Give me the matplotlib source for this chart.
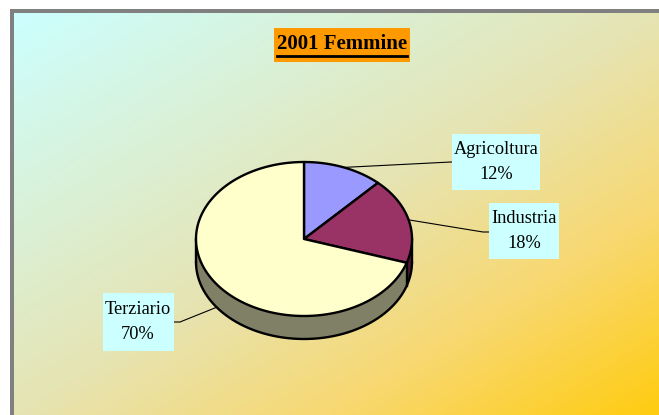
import numpy as np
import matplotlib.pyplot as plt
from matplotlib.colors import LinearSegmentedColormap
from matplotlib.patches import Polygon, Rectangle

# data
categories = ["Agricoltura", "Industria", "Terziario"]
values = [12, 18, 70]
colors = ["#9999ff", "#993366", "#ffffcc"]
side_colors = ["#4d4d80", "#4d1a33", "#808066"]
title = "2001 Femmine"

W, H = 659, 415
fig = plt.figure(figsize=(W / 100, H / 100), dpi=100)
fig.patch.set_facecolor("white")
ax = fig.add_axes([0, 0, 1, 1])
ax.axis("off")

# background frame + diagonal gradient
ax.add_patch(Rectangle((10, 9), W, H, fc="#808080", ec="none", zorder=0))
x0, y0 = 14, 14
uu, vv = np.meshgrid(np.linspace(0, 1, 300), np.linspace(0, 1, 200))
grad = (uu + vv) / 2
cmap = LinearSegmentedColormap.from_list(
    "bg", [(0, "#ccffff"), (0.5, "#e6e4b3"), (0.75, "#f8d870"), (1, "#ffcc11")])
ax.imshow(grad, cmap=cmap, extent=(x0, W, H, y0), aspect="auto", zorder=1,
          interpolation="bilinear")
ax.set_xlim(0, W)
ax.set_ylim(H, 0)

# pie geometry (pixels)
cx, cy, a, b, depth = 304, 239, 108, 77, 23


def pt(th, dz=0):
    return cx + a * np.cos(th), cy - b * np.sin(th) + dz


fracs = np.array(values) / sum(values)
starts = np.deg2rad(90 - 360 * np.concatenate([[0], np.cumsum(fracs)[:-1]]))
ends = starts - 2 * np.pi * fracs
lw = 1.7

# side walls (front half only: angles between -pi and 0)
for s, e, sc in zip(starts, ends, side_colors):
    for shift in (0, 2 * np.pi, -2 * np.pi):
        lo, hi = max(e + shift, -np.pi), min(s + shift, 0)
        if hi <= lo:
            continue
        th = np.linspace(hi, lo, 80)
        xs, ys = pt(th)
        xb, yb = pt(th[::-1], depth)
        poly = np.column_stack([np.concatenate([xs, xb]), np.concatenate([ys, yb])])
        ax.add_patch(Polygon(poly, closed=True, fc=sc, ec="none", zorder=3))

# outline of side
th = np.linspace(-np.pi, 0, 200)
xb, yb = pt(th, depth)
ax.plot(xb, yb, color="black", lw=lw, zorder=4, solid_capstyle="round")
for t in (-np.pi, 0):
    x1, y1 = pt(t)
    ax.plot([x1, x1], [y1, y1 + depth], color="black", lw=lw, zorder=4)
for s in starts:
    ss = (s + np.pi) % (2 * np.pi) - np.pi
    if -np.pi < ss < 0:
        x1, y1 = pt(ss)
        ax.plot([x1, x1], [y1, y1 + depth], color="black", lw=lw, zorder=4)

# top faces
for s, e, c in zip(starts, ends, colors):
    th = np.linspace(s, e, 150)
    xs, ys = pt(th)
    poly = np.column_stack([np.concatenate([[cx], xs]), np.concatenate([[cy], ys])])
    ax.add_patch(Polygon(poly, closed=True, fc=c, ec="black", lw=lw, zorder=5,
                         joinstyle="round"))

# labels
label_pos = [(496, 162), (524, 231), (138, 322)]
box_size = [(88, 56), (70, 56), (71, 58)]
elbow = [(451, 162), (483, 232), (180, 322)]
label_end = [(452, 162), (489, 232), (173, 322)]
mids = (starts + ends) / 2
for name, val, mid, (lx, ly), (bw, bh), el, le in zip(
        categories, values, mids, label_pos, box_size, elbow, label_end):
    mm = (mid + np.pi) % (2 * np.pi) - np.pi
    px, py = pt(mm, depth if mm < 0 else 0)
    ax.plot([px, el[0], le[0]], [py, el[1], le[1]], color="black", lw=0.8, zorder=6)
    ax.add_patch(Rectangle((lx - bw / 2, ly - bh / 2), bw, bh, fc="#ccffff",
                           ec="none", zorder=7))
    ax.text(lx, ly, f"{name}\n{val}%", ha="center", va="center",
            fontsize=13.2, family="Liberation Serif", linespacing=1.55, zorder=8)

# title
ax.add_patch(Rectangle((274, 28), 136, 34, fc="#ff9900", ec="none", zorder=7))
t = ax.text(342, 44, title, ha="center", va="center", fontsize=15,
            fontweight="bold", family="Liberation Serif", zorder=8)
fig.canvas.draw()
bb = t.get_window_extent().transformed(ax.transData.inverted())
ax.plot([bb.x0, bb.x1], [56.5, 56.5], color="black", lw=2, zorder=8)

fig.savefig("out.png", dpi=100)
